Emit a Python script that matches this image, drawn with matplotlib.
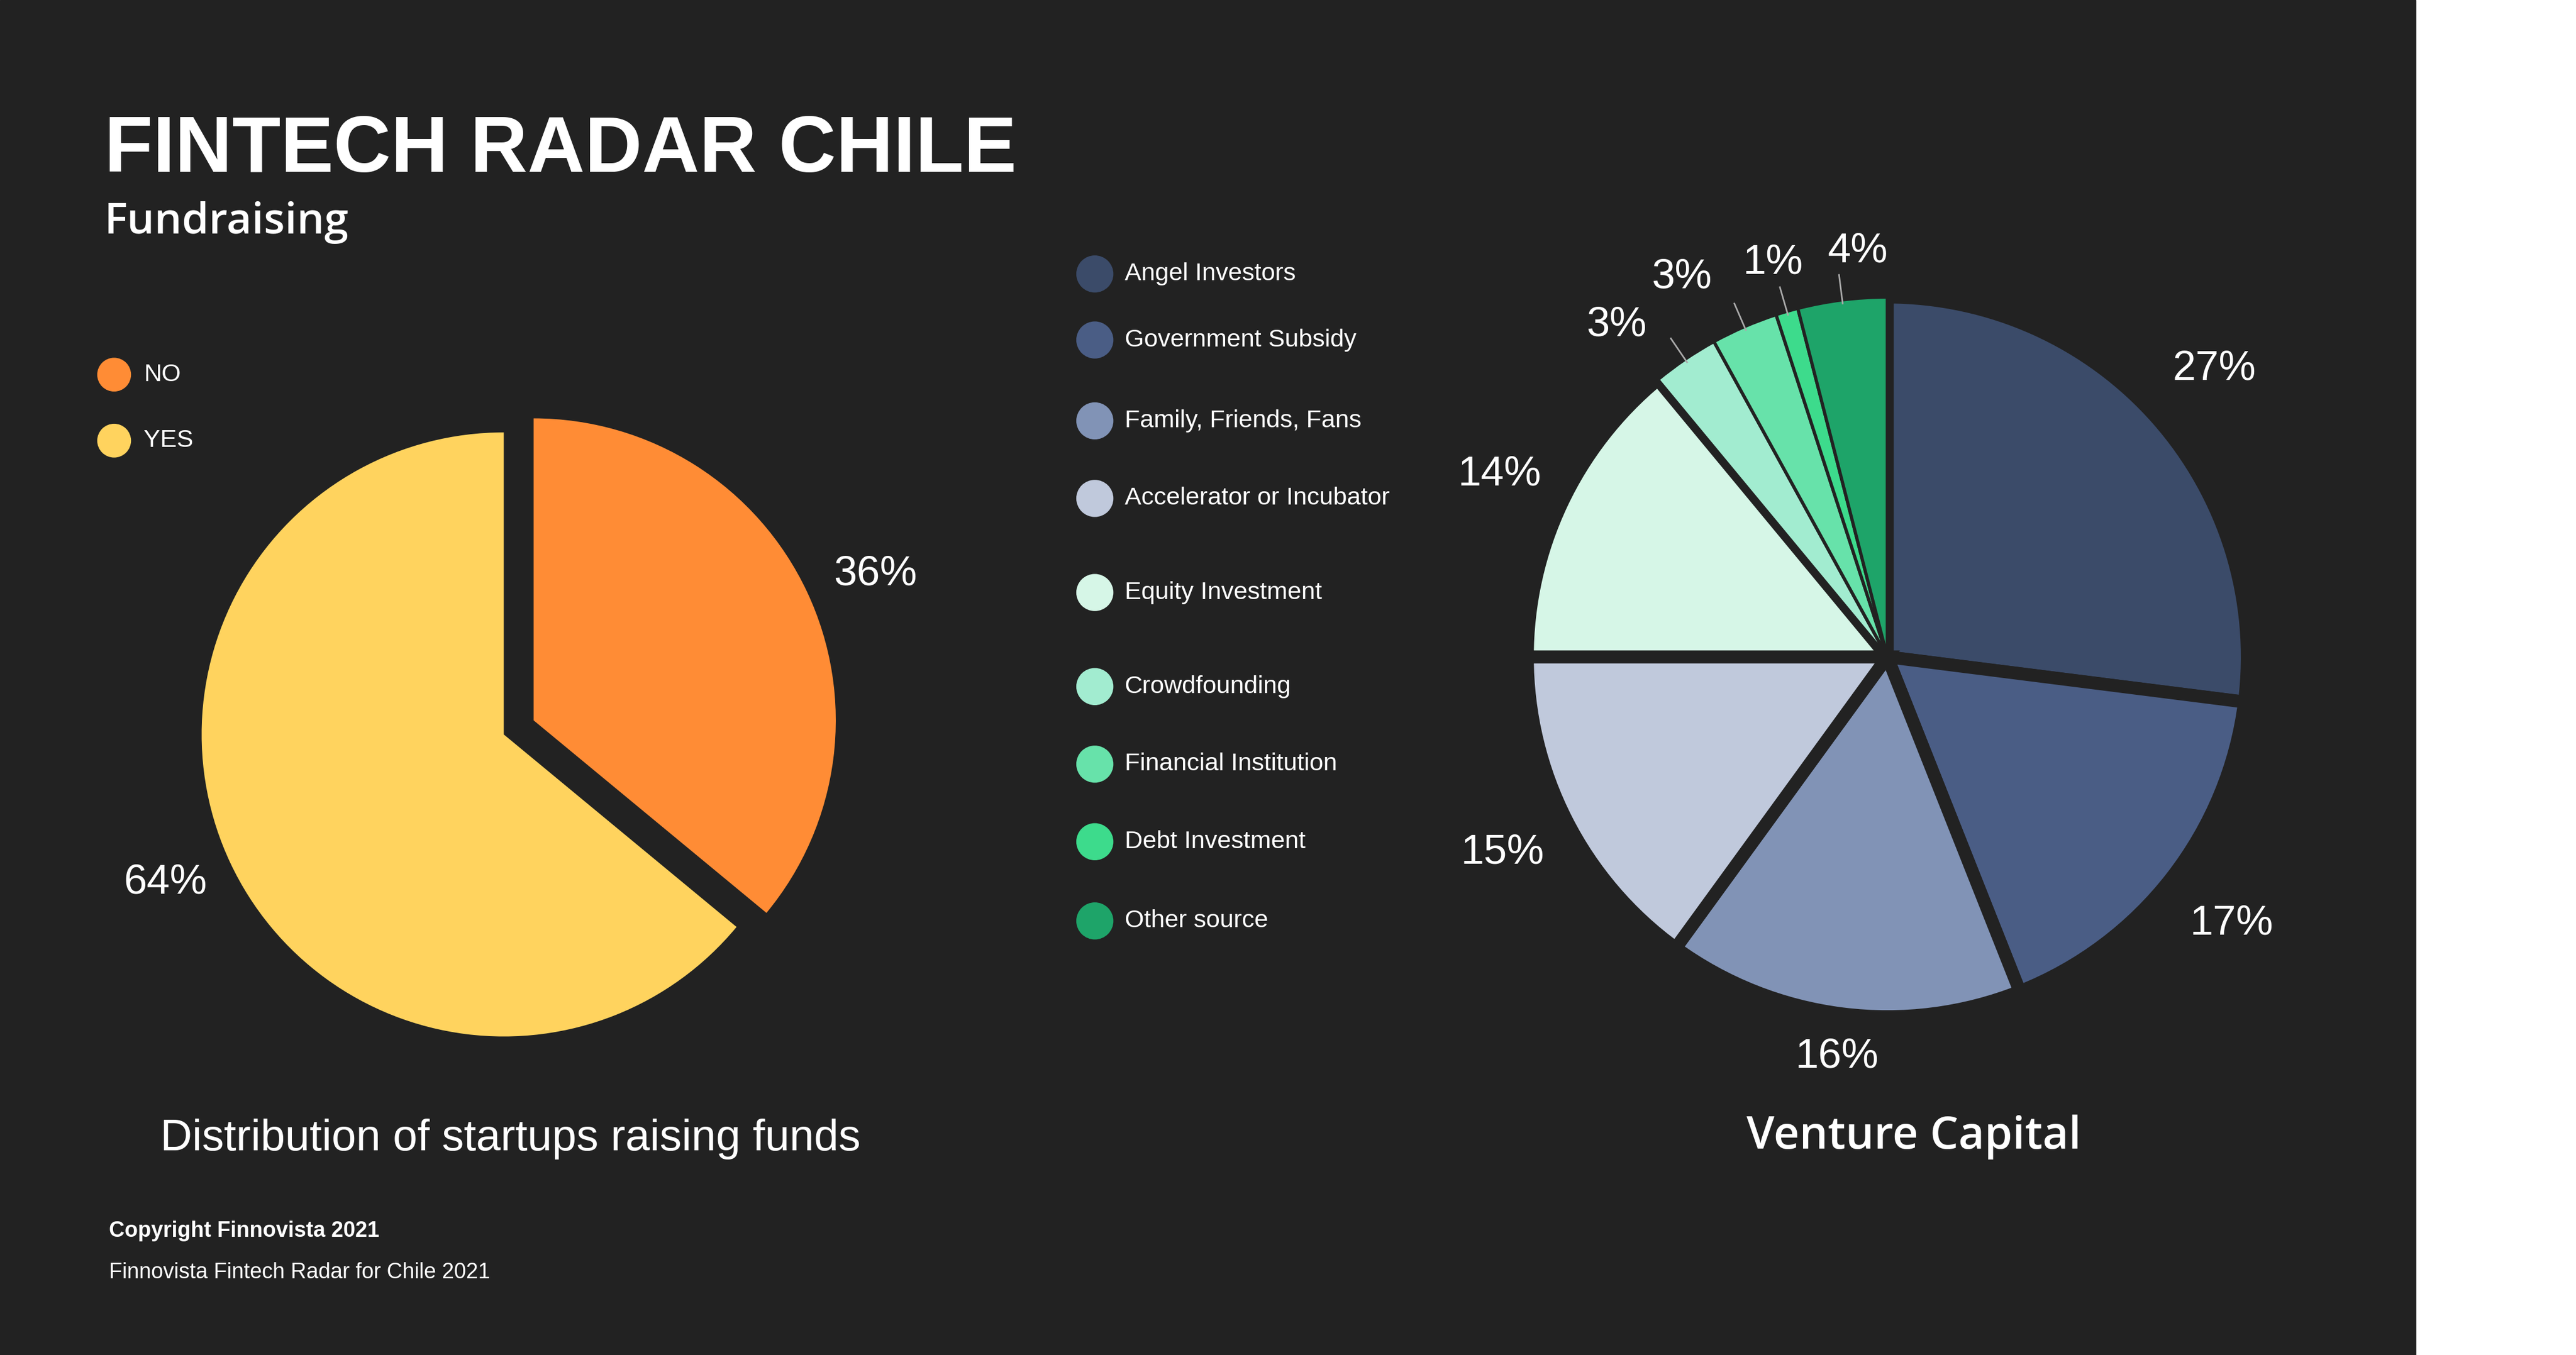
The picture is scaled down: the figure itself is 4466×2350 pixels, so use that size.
import matplotlib
matplotlib.use("Agg")
import matplotlib.pyplot as plt
from matplotlib.patches import Rectangle, Circle
import numpy as np

fund_labels = ["NO", "YES"]
fund_values = [36, 64]
fund_colors = ["#ff8c35", "#ffd35e"]

vc_labels = ["Angel Investors", "Government Subsidy", "Family, Friends, Fans",
             "Accelerator or Incubator", "Equity Investment", "Crowdfounding",
             "Financial Institution", "Debt Investment", "Other source"]
vc_values = [27, 17, 16, 15, 14, 3, 3, 1, 4]
vc_colors = ["#3b4b69", "#4a5d85", "#8193b6", "#c0c9dc", "#d6f6e7",
             "#a2ecd0", "#67e2aa", "#3ddb8c", "#1ea469"]

BG = "#222222"
W, H = 1560, 821
def Y(y): return H - y

fig = plt.figure(figsize=(44.66, 23.5), dpi=100)
ax = fig.add_axes([0, 0, 1, 1])
ax.set_xlim(0, W); ax.set_ylim(0, H)
ax.axis("off")
fig.patch.set_facecolor("white")
ax.add_patch(Rectangle((0, Y(823)), 1463, 823, color=BG, zorder=0))

sans = "Liberation Sans"
ax.text(63, Y(104), "FINTECH RADAR CHILE", fontsize=99, fontweight="bold",
        color="white", family=sans, va="baseline")
ax.text(63, Y(135), "Fundraising", fontsize=54, fontweight="semibold",
        color="white", family="Open Sans", va="center")

# left pie
cx, cy, r = 305, Y(445), 183
w1, _ = ax.pie(fund_values, colors=fund_colors, startangle=90, counterclock=False,
               center=(cx, cy), radius=r, explode=[20, 0], frame=True)
ax.set_xlim(0, W); ax.set_ylim(0, H); ax.set_aspect("equal"); ax.axis("off")
ax.text(530, Y(348), f"{fund_values[0]}%", fontsize=52, color="white", family=sans, ha="center", va="center")
ax.text(100, Y(535), f"{fund_values[1]}%", fontsize=52, color="white", family=sans, ha="center", va="center")
for i, (lab, col) in enumerate(zip(fund_labels, fund_colors)):
    yy = [227, 267][i]
    ax.add_patch(Circle((69, Y(yy)), 10, color=col))
    ax.text(87, Y(yy), lab, fontsize=31, color="white", family=sans, va="center")
ax.text(309, Y(690), "Distribution of startups raising funds", fontsize=55,
        color="white", family=sans, ha="center", va="center")

# right pie
cx2, cy2, r2 = 1143, Y(398), 218
w2, _ = ax.pie(vc_values, colors=vc_colors, startangle=90, counterclock=False,
               center=(cx2, cy2), radius=r2, frame=True,
               wedgeprops=dict(edgecolor=BG, linewidth=16))
for w, v in zip(w2, vc_values):
    if v <= 4:
        w.set_linewidth(4)
ax.set_xlim(0, W); ax.set_ylim(0, H); ax.set_aspect("equal"); ax.axis("off")
cum = np.cumsum([0] + vc_values)
label_dist = [1.21, 1.21, 1.12, 1.2, 1.19, 1.19, 1.2, 1.14, 1.13]
label_shift = [0, 0, 0, 0, 0, 5, 5, 0, -3]
for i, v in enumerate(vc_values):
    mid = (cum[i] + cum[i + 1]) / 2
    ang_s = np.deg2rad(90 - mid * 3.6)
    ang = ang_s + np.deg2rad(label_shift[i])
    d = label_dist[i] * r2
    ax.text(cx2 + d * np.cos(ang), cy2 + d * np.sin(ang), f"{v}%", fontsize=52,
            color="white", family=sans, ha="center", va="center")
    if v <= 4:
        a0, a1 = 0.99 * r2, 1.07 * r2
        ax.plot([cx2 + a0 * np.cos(ang_s), cx2 + a1 * np.cos(ang_s)],
                [cy2 + a0 * np.sin(ang_s), cy2 + a1 * np.sin(ang_s)], color="#aaaaaa", lw=2)

leg_y = [166, 206, 255, 302, 359, 416, 463, 510, 558]
for lab, col, yy in zip(vc_labels, vc_colors, leg_y):
    ax.add_patch(Circle((663, Y(yy)), 11, color=col))
    ax.text(681, Y(yy), lab, fontsize=31, color="white", family=sans, va="center")
ax.text(1159, Y(689), "Venture Capital", fontsize=56, fontweight="semibold",
        color="white", family="Open Sans", ha="center", va="center")

ax.text(66, Y(746), "Copyright Finnovista 2021", fontsize=27, fontweight="bold",
        color="white", family=sans, va="center")
ax.text(66, Y(771), "Finnovista Fintech Radar for Chile 2021", fontsize=27,
        color="white", family=sans, va="center")

fig.savefig("out.png", dpi=100, facecolor="white")
